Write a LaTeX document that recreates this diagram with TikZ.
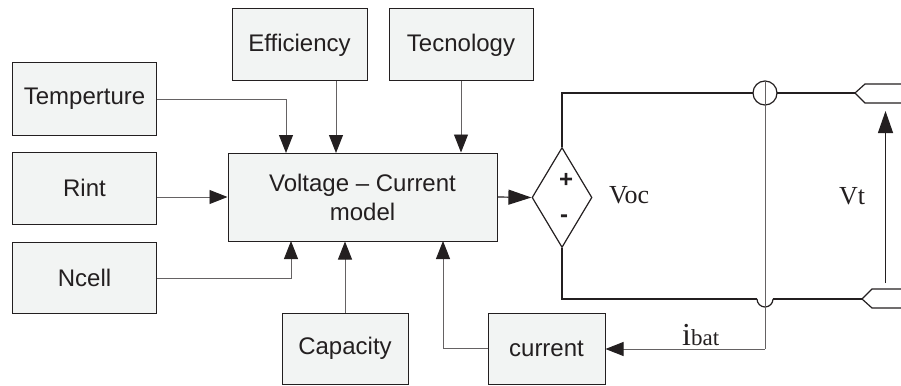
\documentclass[tikz,border=0pt]{standalone}
\usepackage{fontspec}
\setmainfont{Liberation Serif}
\newfontfamily\sansf{Liberation Sans}
\usetikzlibrary{arrows.meta,shapes.geometric}
\definecolor{boxfill}{HTML}{F2F4F3}
\definecolor{ink}{HTML}{231F20}
\tikzset{
 blk/.style={draw=ink,line width=1pt,fill=boxfill,inner sep=0pt,text=ink,font=\sansf\fontsize{24}{29}\selectfont,align=center},
 thin line/.style={draw=ink!70,line width=0.9pt},
 arr/.style={thin line,-{Triangle[length=18pt,width=14pt,fill=ink,color=ink]}},
 wire/.style={draw=ink,line width=1.2pt},
 lab/.style={font=\fontsize{26}{30}\selectfont,inner sep=0pt,text=ink}
}
\newcommand{\blkat}[6]{\node[blk,minimum width=#4 pt,minimum height=#5 pt] (#1) at (#2,#3) {#6};}
\begin{document}
\begin{tikzpicture}[x=1pt,y=-1pt]
\useasboundingbox (0,0) rectangle (901,385);
\blkat{temp}{84.5}{99}{144}{72}{Temperture}
\blkat{rint}{84.5}{188}{144}{72}{Rint}
\blkat{ncell}{84.5}{277.5}{144}{71}{Ncell}
\blkat{eff}{299.5}{45}{135}{72}{Efficiency}
\blkat{tec}{461}{45}{144}{72}{Tecnology}
\blkat{model}{362.5}{197}{269}{88}{Voltage – Current\\model}
\blkat{cap}{345}{348.5}{126}{71}{Capacity}
\blkat{cur}{546.5}{348.5}{117}{71}{current}
\node[draw=ink,line width=1.2pt,diamond,aspect=0.6,minimum width=60pt,minimum height=100pt,inner sep=0pt] (src) at (562,197.5) {};
\node[text=ink,font=\sansf\bfseries\fontsize{24}{26}\selectfont,inner sep=0pt] (plus) at (566,180) {+};
\node[text=ink,font=\sansf\bfseries\fontsize{24}{26}\selectfont,inner sep=0pt] (minus) at (564,219) {-};
\node[lab,anchor=west] (voc) at (609,195) {Voc};
\node[lab,anchor=west] (vt) at (839,196) {Vt};
\node[inner sep=0pt,anchor=base west,text=ink] (ibat) at (682,345) {\fontsize{32}{34}\selectfont i\fontsize{23}{26}\selectfont bat};

\coordinate (t1) at (855,93);
\coordinate (t2) at (862,299);
\coordinate (k) at (765,93);
\coordinate (hop) at (765,299);
\coordinate (vtop) at (885.5,111);
\coordinate (vbot) at (885.5,283);

\draw[arr] (temp.east) -| (286,153);
\draw[arr] (rint.east |- model.west) -- (model.west);
\draw[arr] (ncell.east |- 0,278) -| (291,241);
\draw[arr] (336,81) -- (336,153);
\draw[arr] (tec.south) -- (tec.south |- model.north);
\draw[arr] (cap.north) -- (cap.north |- model.south);
\draw[arr] (cur.west) -| (443,241);
\draw[wire,-{Triangle[length=23pt,width=15pt,fill=ink,color=ink]}] (model.east) -- (src.west);

\draw[wire] (src.north) |- (753,93);
\draw[wire] (777,93) -- (t1);
\draw[wire] (src.south) |- (757,299);
\draw[wire] (757,299) arc[start angle=180,delta angle=-180,radius=8];
\draw[wire] (773,299) -- (t2);
\draw[wire] (k) circle[radius=12];
\draw[thin line] (765,81) -- (765,349);
\draw[arr] (765,349) -- (cur.east |- 0,349);

\draw[wire] (901,84) -- (865,84) -- (t1) -- (865,103) -- (901,103);
\draw[wire] (901,289) -- (872,289) -- (t2) -- (872,308) -- (901,308);
\draw[wire,-{Triangle[length=22pt,width=15pt,fill=ink,color=ink]}] (vbot) -- (vtop);
\end{tikzpicture}
\end{document}
